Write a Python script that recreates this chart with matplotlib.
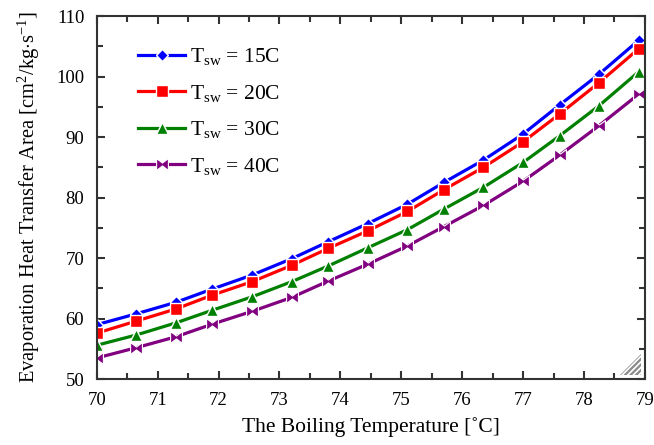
import numpy as np
import matplotlib.pyplot as plt
from matplotlib.patches import Polygon
from matplotlib.ticker import MultipleLocator

plt.rcParams['font.family'] = 'Liberation Serif'
plt.rcParams['mathtext.fontset'] = 'custom'
plt.rcParams['mathtext.rm'] = 'Liberation Serif'
plt.rcParams['mathtext.it'] = 'Liberation Serif:italic'
plt.rcParams['hatch.linewidth'] = 1.6

# boiling temperature [C]
temp = [70.0, 70.65, 71.3, 71.9, 72.55, 73.2, 73.8, 74.45, 75.1, 75.7,
        76.35, 77.0, 77.6, 78.25, 78.9]

# evaporation heat transfer area for each seawater temperature
area_15 = [59.0, 60.8, 62.7, 64.9, 67.2, 69.9, 72.7, 75.7, 78.9, 82.5,
           86.2, 90.5, 95.3, 100.4, 106.0]
area_20 = [57.6, 59.6, 61.6, 63.9, 66.1, 68.8, 71.6, 74.5, 77.7, 81.3,
           85.0, 89.2, 93.8, 99.0, 104.6]
area_30 = [55.6, 57.3, 59.3, 61.4, 63.6, 66.1, 68.7, 71.7, 74.7, 78.1,
           81.7, 85.8, 90.2, 95.2, 100.8]
area_40 = [53.5, 55.2, 57.0, 59.1, 61.2, 63.5, 66.2, 69.0, 72.0, 75.2,
           78.7, 82.7, 87.0, 91.9, 97.1]

labels = [r'T$_{\rm sw}$ = 15C', r'T$_{\rm sw}$ = 20C',
          r'T$_{\rm sw}$ = 30C', r'T$_{\rm sw}$ = 40C']

bowtie = [(-1, 1), (0, 0.25), (1, 1), (1, -1), (0, -0.25), (-1, -1), (-1, 1)]

fig = plt.figure(figsize=(6.54, 4.45), dpi=100)
ax = fig.add_axes([0.148, 0.148, 0.838, 0.816])

ax.plot(temp, area_15, color='blue', lw=2.3, marker='D', ms=6.5,
        mec='white', mew=1.0, label=labels[0])
ax.plot(temp, area_20, color='red', lw=2.3, marker='s', ms=8.5,
        mec='white', mew=1.0, label=labels[1])
ax.plot(temp, area_30, color='green', lw=2.3, marker='^', ms=8.5,
        mec='white', mew=1.0, label=labels[2])
ax.plot(temp, area_40, color='purple', lw=2.3, marker=bowtie, ms=8.5,
        mec='white', mew=0.8, label=labels[3])

ax.set_xlim(70, 79)
ax.set_ylim(50, 110)
ax.xaxis.set_major_locator(MultipleLocator(1))
ax.xaxis.set_minor_locator(MultipleLocator(0.5))
ax.yaxis.set_major_locator(MultipleLocator(10))
ax.yaxis.set_minor_locator(MultipleLocator(5))
ax.tick_params(which='both', direction='in', top=True, right=True,
               width=1.5, labelsize=13.5, color='#333333')
ax.tick_params(which='major', length=6, pad=9)
ax.tick_params(which='minor', length=4)
for sp in ax.spines.values():
    sp.set_linewidth(1.5)
    sp.set_color('#333333')

ax.set_xlabel('The Boiling Temperature [˚C]', fontsize=15.5, labelpad=6)
ax.set_ylabel(r'Evaporation Heat Transfer Area [cm$^2$/kg$\cdot$s$^{-1}$]',
              fontsize=14.8, labelpad=10)

ax.legend(loc='upper left', bbox_to_anchor=(0.04, 0.97), frameon=False,
          fontsize=15.5, handlelength=2.2, handletextpad=0.2,
          labelspacing=0.72)

# grip triangle in the lower right corner
ax.add_patch(Polygon([[0.955, 0.012], [0.993, 0.012], [0.993, 0.068]],
                     closed=True, transform=ax.transAxes, fill=False,
                     hatch='//////', edgecolor='#8a8a8a', lw=0))

fig.savefig('out.png', dpi=100)
